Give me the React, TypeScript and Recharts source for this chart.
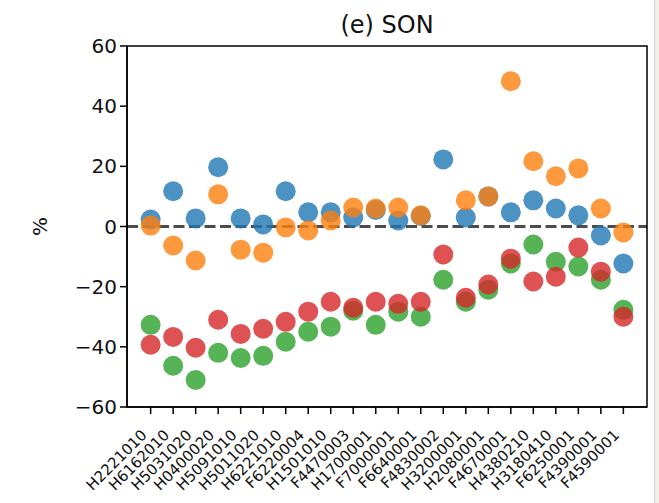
import { ScatterChart, Scatter, XAxis, YAxis, ReferenceLine, ReferenceArea } from 'recharts';

const stations = [
  'H2221010', 'H6162010', 'H5031020', 'H0400020', 'H5091010', 'H5011020',
  'H6221010', 'F6220004', 'H1501010', 'F4470003', 'H1700001', 'F7000001',
  'F6640001', 'F4830002', 'H3200001', 'H2080001', 'F4670001', 'H4380210',
  'H3180410', 'F6250001', 'F4390001', 'F4590001',
];

const blueVals = [2.3, 11.7, 2.7, 19.7, 2.7, 0.7, 11.7, 4.7, 4.7, 3, 5.5, 2, 3.5, 22.3, 3, 10, 4.7, 8.7, 6, 3.7, -3, -12.3];
const orangeVals = [0.3, -6.3, -11.3, 10.7, -7.7, -8.7, -0.3, -1.3, 2, 6.3, 6, 6.3, 3.7, null, 8.7, 10, 48.3, 21.7, 16.7, 19.3, 6, -2];
const greenVals = [-32.7, -46.3, -51, -42, -43.7, -43, -38.3, -35, -33.3, -28, -32.7, -28.3, -30, -17.7, -25, -21, -12.3, -6, -11.7, -13.3, -17.7, -27.7];
const redVals = [-39.3, -36.7, -40.3, -31, -35.7, -34, -31.7, -28.3, -25, -27, -25, -25.7, -25, -9.3, -23.7, -19.3, -10.7, -18.3, -16.7, -7, -15, -30];

const yTicks = [-60, -40, -20, 0, 20, 40, 60];

const series = [
  { key: 'blue', vals: blueVals, color: '#1f77b4' },
  { key: 'orange', vals: orangeVals, color: '#ff7f0e' },
  { key: 'green', vals: greenVals, color: '#2ca02c' },
  { key: 'red', vals: redVals, color: '#d62728' },
];

const FONT = '"DejaVu Sans", sans-serif';
const xTicks = stations.map((_, i) => i);
const pad = (stations.length - 1) * 0.05;

const toPoints = (vals: (number | null)[]) =>
  vals.map((v, i) => ({ i, v })).filter((p) => p.v !== null);

const Dot = (color: string) => (props: any) =>
  <circle cx={props.cx} cy={props.cy} r={10} fill={color} fillOpacity={0.8} />;

const XTick = ({ x, y, payload }: any) => (
  <g transform={`translate(${x - 3},${y + 22})`}>
    <text transform="rotate(-45)" textAnchor="end" fontSize={15} fill="#111" fontFamily={FONT}>
      {stations[payload.value]}
    </text>
  </g>
);

const fmt = (v: number) => String(v).replace('-', '\u2212');

export default function App() {
  return (
    <div style={{ position: 'absolute', left: 0, top: 0, width: 659, height: 503, background: '#f1efe7' }}>
      <div style={{ position: 'absolute', left: 0, top: 0, width: 654, height: 503, background: '#fff', borderRight: '1px solid #d8d8d8' }}>
        <div style={{ position: 'absolute', left: 127, top: 13, width: 520, textAlign: 'center', fontFamily: FONT, fontSize: 24, lineHeight: 1, color: '#111' }}>
          (e) SON
        </div>
        <ScatterChart width={654} height={503} margin={{ top: 46, right: 7, bottom: 0, left: 0 }}>
          <XAxis
            type="number"
            dataKey="i"
            domain={[-pad, stations.length - 1 + pad]}
            ticks={xTicks}
            interval={0}
            height={96}
            tickSize={7}
            tickMargin={0}
            stroke="#000"
            strokeWidth={1.5}
            tick={<XTick />}
          />
          <YAxis
            type="number"
            dataKey="v"
            domain={[-60, 60]}
            ticks={yTicks}
            width={127}
            tickSize={7}
            tickMargin={3}
            stroke="#000"
            strokeWidth={1.5}
            tickFormatter={fmt}
            tick={{ fontSize: 20, fill: '#111', fontFamily: FONT }}
            label={{
              content: ({ viewBox }: any) => (
                <text
                  x={viewBox.x + 40}
                  y={viewBox.y + viewBox.height / 2}
                  transform={`rotate(-90 ${viewBox.x + 40} ${viewBox.y + viewBox.height / 2})`}
                  textAnchor="middle"
                  dominantBaseline="central"
                  fontSize={20}
                  fill="#111"
                  fontFamily={FONT}
                >
                  %
                </text>
              ),
            }}
          />
          <ReferenceArea
            x1={-pad}
            x2={stations.length - 1 + pad}
            y1={-60}
            y2={60}
            fill="none"
            stroke="#000"
            strokeWidth={1.5}
          />
          {series.map((s) => (
            <Scatter
              key={s.key}
              name={s.key}
              data={toPoints(s.vals)}
              shape={Dot(s.color)}
              isAnimationActive={false}
            />
          ))}
          <ReferenceLine y={0} stroke="#000" strokeOpacity={0.7} strokeWidth={3} strokeDasharray="11 4.5" />
        </ScatterChart>
      </div>
    </div>
  );
}
